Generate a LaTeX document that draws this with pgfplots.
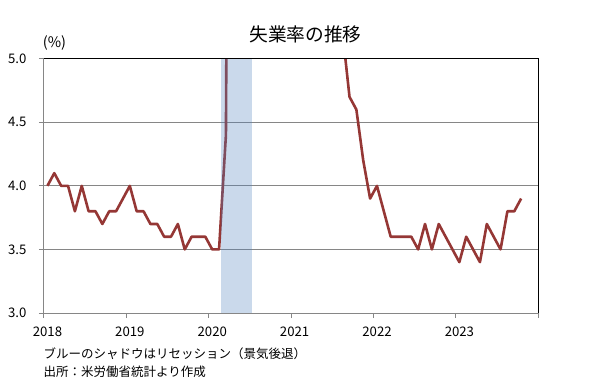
\documentclass[border=0pt]{standalone}
\usepackage{fontspec}
\setmainfont{Noto Sans CJK JP}
\usepackage{pgfplots}
\pgfplotsset{compat=1.18}
\definecolor{linered}{RGB}{149,55,53}
\definecolor{shade}{RGB}{79,129,189}
\definecolor{gridgray}{RGB}{134,134,134}
\pgfplotstableread{
m v
0.5 4.0
1.5 4.1
2.5 4.0
3.5 4.0
4.5 3.8
5.5 4.0
6.5 3.8
7.5 3.8
8.5 3.7
9.5 3.8
10.5 3.8
11.5 3.9
12.5 4.0
13.5 3.8
14.5 3.8
15.5 3.7
16.5 3.7
17.5 3.6
18.5 3.6
19.5 3.7
20.5 3.5
21.5 3.6
22.5 3.6
23.5 3.6
24.5 3.5
25.5 3.5
26.5 4.4
27.5 14.7
28.5 13.2
29.5 11.0
30.5 10.2
31.5 8.4
32.5 7.8
33.5 6.8
34.5 6.7
35.5 6.7
36.5 6.4
37.5 6.2
38.5 6.1
39.5 6.1
40.5 5.8
41.5 5.9
42.5 5.4
43.5 5.2
44.5 4.7
45.5 4.6
46.5 4.2
47.5 3.9
48.5 4.0
49.5 3.8
50.5 3.6
51.5 3.6
52.5 3.6
53.5 3.6
54.5 3.5
55.5 3.7
56.5 3.5
57.5 3.7
58.5 3.6
59.5 3.5
60.5 3.4
61.5 3.6
62.5 3.5
63.5 3.4
64.5 3.7
65.5 3.6
66.5 3.5
67.5 3.8
68.5 3.8
69.5 3.9
}\unemp
\begin{document}
\begin{tikzpicture}
\useasboundingbox (0pt,0pt) rectangle (594pt,384pt);
\begin{axis}[
  name=ax,
  at={(44pt,71pt)}, anchor=south west,
  scale only axis, width=494.3pt, height=254.3pt,
  xmin=0, xmax=72, ymin=3, ymax=5,
  axis x line*=bottom, axis y line*=left,
  axis line style={gridgray, line width=1pt},
  xtick={0,12,24,36,48,60,72},
  xticklabels={2018,2019,2020,2021,2022,2023,},
  ytick={3,3.5,4,4.5,5},
  yticklabel={\pgfmathprintnumber[fixed,fixed zerofill,precision=1]{\tick}},
  ymajorgrids, grid style={gridgray, line width=1pt},
  tick align=outside, major tick length=5pt,
  tick style={gridgray, line width=1pt},
  ticklabel style={font=\fontsize{13.2}{15}\selectfont, text=black},
  xticklabel style={xshift=3.5pt, yshift=-5pt},
  yticklabel style={xshift=-9pt},
  /pgf/number format/assume math mode=true,
]
\addplot[linered, line width=2.6pt, line join=round] table[x=m, y=v] {\unemp};
\addplot[fill=shade, fill opacity=0.3, draw=none] coordinates {(25.8,3) (30.25,3) (30.25,5) (25.8,5)} -- cycle;
\end{axis}
\draw[black, line width=1.2pt] (ax.north west) -- (ax.north east) -- (ax.south east);
\node[inner sep=0, font=\fontsize{18.7}{20}\selectfont] at (305.5pt,350pt) {失業率の推移};
\node[inner sep=0, anchor=west, font=\fontsize{14.5}{16}\selectfont] at (42.7pt,340.7pt) {(\%)};
\node[inner sep=0, anchor=west, font=\fontsize{12.5}{14}\selectfont] at (43.3pt,30.7pt) {ブルーのシャドウはリセッション（景気後退）};
\node[inner sep=0, anchor=west, font=\fontsize{12.5}{14}\selectfont] at (43.3pt,12.3pt) {出所：米労働省統計より作成};
\end{tikzpicture}
\end{document}
